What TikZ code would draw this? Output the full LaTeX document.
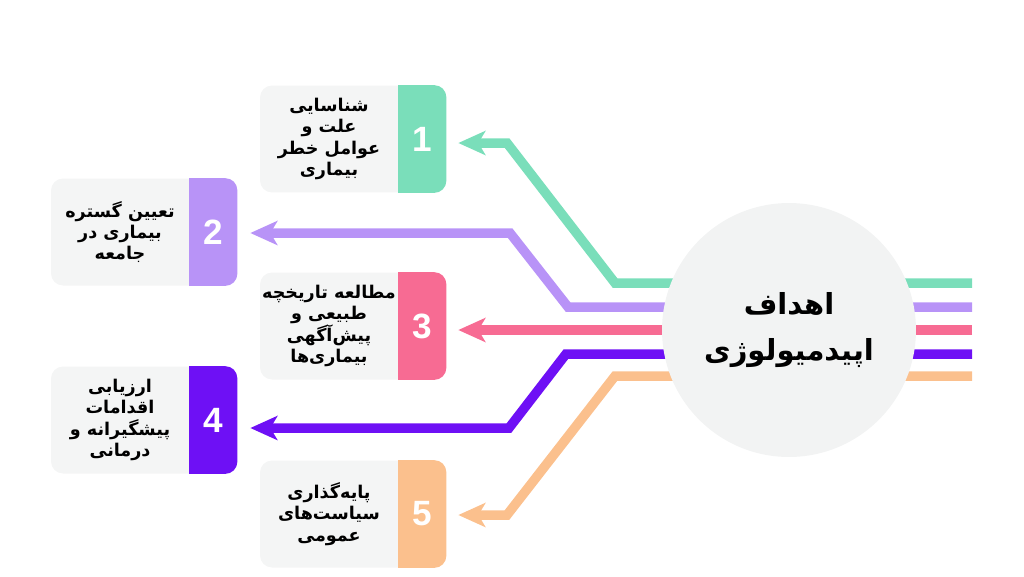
\documentclass[tikz,border=0pt]{standalone}
\usepackage{fontspec}
\usepackage{tikz}
\usetikzlibrary{positioning,calc,arrows.meta}
\TeXXeTstate=1
\newfontfamily\fafont[Script=Arabic]{DejaVu Sans}
\newfontfamily\numfont{Liberation Sans}
\newcommand{\rl}[1]{\beginR #1\endR}

\definecolor{cardgray}{HTML}{F4F5F5}
\definecolor{goalgray}{HTML}{F2F3F3}
\definecolor{cMint}{HTML}{7ADEBA}
\definecolor{cLilac}{HTML}{B893F7}
\definecolor{cRose}{HTML}{F76B93}
\definecolor{cViolet}{HTML}{6E10F5}
\definecolor{cPeach}{HTML}{FBC08D}

\tikzset{
  card/.style={fill=cardgray, rounded corners=2.4mm, minimum width=3.72cm, minimum height=2.14cm, inner sep=0pt},
  cardtext/.style={align=center, font=\fafont\bfseries\fontsize{10}{12.2}\selectfont},
  numtext/.style={text=white, font=\numfont\bfseries\fontsize{20}{24}\selectfont},
  link/.style={line width=1.9mm, -{Stealth[length=5.4mm, width=4.8mm, inset=1.4mm]}},
}

\begin{document}
\begin{tikzpicture}[x=0.02cm, y=-0.02cm]
    \useasboundingbox (0,0) rectangle (1024,576);

    % cards
    \node[card] (b1) at (353,139) {};
    \node[card] (b2) at (144,232) {};
    \node[card] (b3) at (353,326) {};
    \node[card] (b4) at (144,420) {};
    \node[card] (b5) at (353,514) {};

    % number tabs
    \foreach \b/\c in {b1/cMint, b2/cLilac, b3/cRose, b4/cViolet, b5/cPeach} {
        \fill[\c, rounded corners=2.4mm] ([xshift=-0.96cm]\b.north east) rectangle (\b.south east);
        \fill[\c] ([xshift=-0.96cm]\b.north east) rectangle ([xshift=-0.5cm]\b.south east);
    }
    \node[numtext] (n1) at ([xshift=-0.48cm]b1.east) {1};
    \node[numtext] (n2) at ([xshift=-0.48cm]b2.east) {2};
    \node[numtext] (n3) at ([xshift=-0.48cm]b3.east) {3};
    \node[numtext] (n4) at ([xshift=-0.48cm]b4.east) {4};
    \node[numtext] (n5) at ([xshift=-0.48cm]b5.east) {5};

    \node[cardtext] (t1) at ([xshift=-0.48cm]b1.center) {\rl{شناسایی}\\\rl{علت و}\\\rl{عوامل خطر}\\\rl{بیماری}};
    \node[cardtext] (t2) at ([xshift=-0.48cm]b2.center) {\rl{تعیین گستره}\\\rl{بیماری در}\\\rl{جامعه}};
    \node[cardtext] (t3) at ([xshift=-0.48cm]b3.center) {\rl{مطالعه تاریخچه}\\\rl{طبیعی و}\\\rl{پیش‌آگهی}\\\rl{بیماری‌ها}};
    \node[cardtext] (t4) at ([xshift=-0.48cm]b4.center) {\rl{ارزیابی}\\\rl{اقدامات}\\\rl{پیشگیرانه و}\\\rl{درمانی}};
    \node[cardtext] (t5) at ([xshift=-0.48cm]b5.center) {\rl{پایه‌گذاری}\\\rl{سیاست‌های}\\\rl{عمومی}};

    % free ends at the right edge
    \coordinate (s1) at (972,283);
    \coordinate (s2) at (972,307);
    \coordinate (s3) at (972,330);
    \coordinate (s4) at (972,354);
    \coordinate (s5) at (972,376);

    \draw[link, cMint] (s1) -- (615,283) -- (507,143) -- ($(b1.east)+(12,4)$);
    \draw[link, cLilac] (s2) -- (568,307) -- (510,233) -- ($(b2.east)+(13,1)$);
    \draw[link, cRose] (s3) -- ($(b3.east)+(12,4)$);
    \draw[link, cViolet] (s4) -- (566,354) -- (509,428) -- ($(b4.east)+(13,8)$);
    \draw[link, cPeach] (s5) -- (615,376) -- (507,515) -- ($(b5.east)+(12,1)$);

    % centre
    \node[circle, fill=goalgray, minimum size=5.08cm, align=center,
          font=\fafont\bfseries\fontsize{16.5}{26.5}\selectfont] (goal) at (789,330)
        {\rl{اهداف}\\\rl{اپیدمیولوژی}};
\end{tikzpicture}
\end{document}
